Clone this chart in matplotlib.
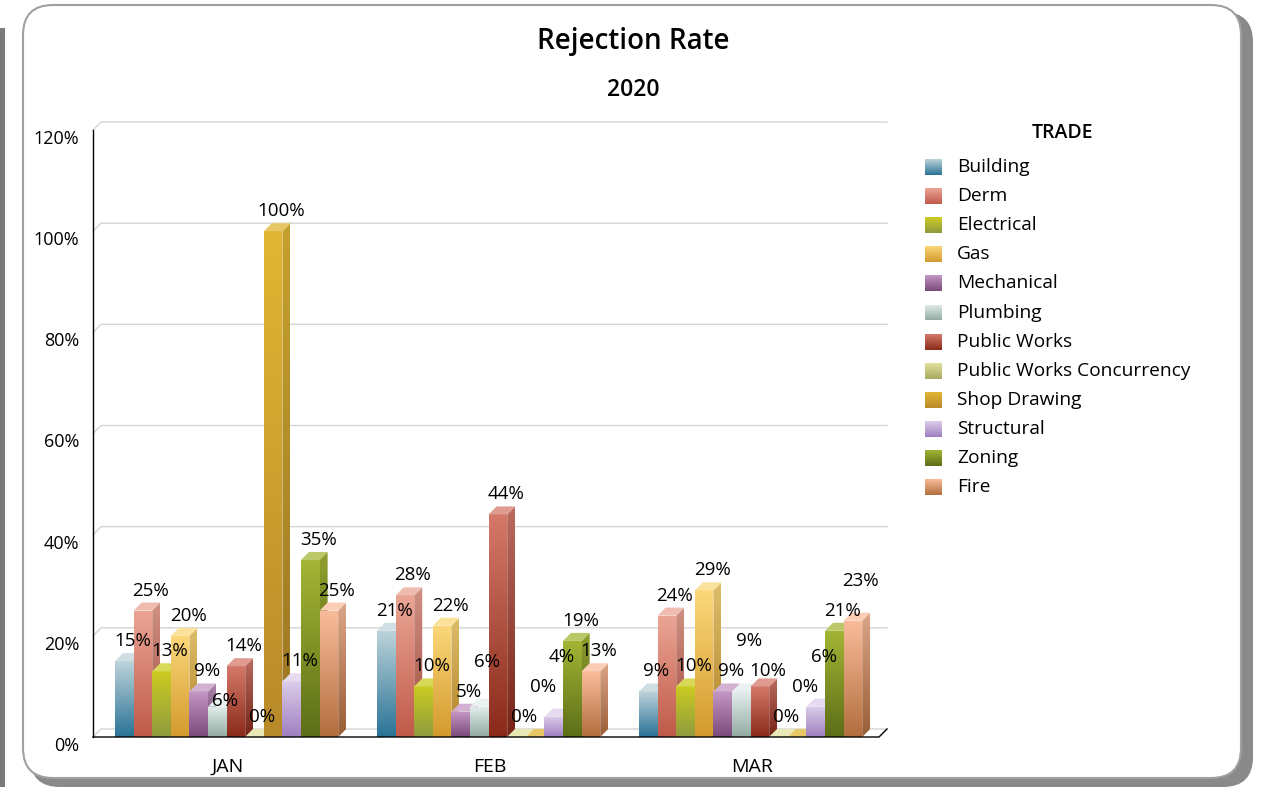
import matplotlib
matplotlib.use('Agg')
import matplotlib.pyplot as plt
import numpy as np
from matplotlib.patches import Polygon, Rectangle, FancyBboxPatch
from matplotlib.colors import to_rgb

plt.rcParams['font.family'] = ['Open Sans', 'DejaVu Sans']

# Data
months = ['JAN', 'FEB', 'MAR']
trades = ['Building', 'Derm', 'Electrical', 'Gas', 'Mechanical', 'Plumbing',
          'Public Works', 'Public Works Concurrency', 'Shop Drawing',
          'Structural', 'Zoning', 'Fire']
jan = [15, 25, 13, 20, 9, 6, 14, 0, 100, 11, 35, 25]
feb = [21, 28, 10, 22, 5, 6, 44, 0, 0, 4, 19, 13]
mar = [9, 24, 10, 29, 9, 9, 10, 0, 0, 6, 21, 23]
y_ticks = [0, 20, 40, 60, 80, 100, 120]

# gradient colours, top -> bottom
top_colors = ['#bdd3da', '#eba595', '#cccc22', '#fbd779', '#c497c4', '#e3eeec',
              '#d4796a', '#e2e29e', '#e0b633', '#dccdea', '#a3b534', '#f9bc9b']
bottom_colors = ['#2a7396', '#c05a4a', '#8f9a3e', '#d49a2e', '#7a4a7c', '#93aba3',
                 '#8a2a1a', '#a8a862', '#b88a2a', '#9f7fbf', '#5d6e18', '#b36e3e']


def shade(c, f):
    c = np.array(to_rgb(c))
    if f < 1:
        return tuple(c * f)
    return tuple(c + (1 - c) * (f - 1))


def gradient_fill(ax, verts, c_top, c_bot, zorder, flip=False):
    poly = Polygon(verts, closed=True, facecolor='none', edgecolor='none', zorder=zorder)
    ax.add_patch(poly)
    t = np.linspace(0, 1, 64)[:, None, None]
    ct = np.array(to_rgb(c_top))[None, None, :]
    cb = np.array(to_rgb(c_bot))[None, None, :]
    img = ct * (1 - t) + cb * t
    xs = [v[0] for v in verts]
    ys = [v[1] for v in verts]
    y_lo, y_hi = min(ys), max(ys)
    if flip:
        y_lo, y_hi = y_hi, y_lo
    im = ax.imshow(img, extent=[min(xs), max(xs), y_lo, y_hi], origin='upper',
                   aspect='auto', zorder=zorder, interpolation='bilinear')
    im.set_clip_path(poly)
    return im


W, H = 1263, 787
fig = plt.figure(figsize=(W / 100, H / 100), dpi=100)

# background canvas in pixel coordinates
bg = fig.add_axes([0, 0, 1, 1], zorder=0)
bg.axis('off')
bg.add_patch(Rectangle((0, 28), 5, 759, facecolor='#7a7a7a', edgecolor='none'))
bg.add_patch(FancyBboxPatch((30, 12), 1223, 775, boxstyle='round,pad=0,rounding_size=30',
                            facecolor='#8a8a8a', edgecolor='none'))
bg.add_patch(FancyBboxPatch((23, 5), 1218, 773, boxstyle='round,pad=0,rounding_size=30',
                            facecolor='white', edgecolor='#a0a0a0', linewidth=1.5))

bg.text(633, 42, 'Rejection Rate', ha='center', va='center', fontsize=20, fontweight='semibold')
bg.text(633, 90, '2020', ha='center', va='center', fontsize=16.5, fontweight='semibold')

# legend
bg.text(1063, 133, 'TRADE', ha='center', va='center', fontsize=14, fontweight='semibold')
for i, name in enumerate(trades):
    yc = 167 + i * 29.1
    gradient_fill(bg, [(925, yc + 8), (942, yc + 8), (942, yc - 8), (925, yc - 8)],
                  top_colors[i], bottom_colors[i], 2, flip=True)
    bg.text(957, yc, name, ha='left', va='center', fontsize=13.8)
bg.set_xlim(0, W)
bg.set_ylim(H, 0)

# chart axes
px_x = 262.0                     # pixels per category
px_y = 5.06                      # pixels per percent
dx = 8 / px_x
dy = 8 / px_y
w = 18.6 / px_x
left, bottom, top = 93, 737, 130
ax = fig.add_axes([left / W, (H - bottom) / H, (3 * px_x + 8) / W, (bottom - top) / H], zorder=1)
ax.patch.set_alpha(0)
xmin, xmax = -0.5, 2.5
ax.set_xlim(xmin, xmax + dx)
ax.set_ylim(0, 120)

# back grid lines with 3D offset
for v in y_ticks:
    ax.plot([xmin, xmin + dx, xmax + dx], [v, v + dy, v + dy], color='#d4d4d4',
            lw=1, clip_on=False, zorder=1)

to_px = ax.transData.transform
to_data = ax.transData.inverted().transform
step = 30          # vertical pixels between two clashing labels
values = [jan, feb, mar]
for c, vals in enumerate(values):
    x_start = c - len(trades) * w / 2 + 0.01
    prev = None    # (x_px, y_px) of previous label centre
    for j, h in enumerate(vals):
        x0 = x_start + j * w
        z = 3 + j * 0.01
        # front face
        gradient_fill(ax, [(x0, 0), (x0 + w, 0), (x0 + w, h), (x0, h)],
                      top_colors[j], bottom_colors[j], z)
        # side face
        gradient_fill(ax, [(x0 + w, 0), (x0 + w + dx, dy), (x0 + w + dx, h + dy), (x0 + w, h)],
                      shade(top_colors[j], 0.88), shade(bottom_colors[j], 0.85), z + 0.001)
        # top face
        ax.add_patch(Polygon([(x0, h), (x0 + w, h), (x0 + w + dx, h + dy), (x0 + dx, h + dy)],
                             closed=True, facecolor=shade(top_colors[j], 1.25),
                             edgecolor='none', zorder=z + 0.002, clip_on=False))
        # value label: moved down (if room) or up when it clashes with the previous one
        lx, bar_top = to_px((x0 + w / 2 + dx, h))
        ly = bar_top + 20
        if prev is not None and abs(lx - prev[0]) < 26 and abs(ly - prev[1]) < step - 2:
            if prev[1] - step >= bar_top + 4:
                ly = prev[1] - step
            else:
                ly = prev[1] + step
        prev = (lx, ly)
        ax.text(*to_data((lx, ly)), f'{h}%', ha='center', va='center',
                fontsize=13.5, zorder=10, clip_on=False)

# front floor line and left axis
ax.plot([xmin, xmax, xmax + dx], [0, 0, dy], color='black', lw=1, clip_on=False, zorder=8)
ax.plot([xmin, xmin], [0, 120], color='black', lw=1, clip_on=False, zorder=8)

for s in ax.spines.values():
    s.set_visible(False)
ax.set_xticks([c + dx / 2 for c in range(len(months))])
ax.set_xticklabels(months, fontsize=14)
ax.set_yticks(y_ticks)
ax.set_yticklabels([f'{v}%' for v in y_ticks], fontsize=13)
ax.tick_params(axis='x', length=0, pad=15)
ax.tick_params(axis='y', length=0, pad=10)
for lbl in ax.get_yticklabels():
    lbl.set_va('top')

fig.savefig('out.png', dpi=100)
